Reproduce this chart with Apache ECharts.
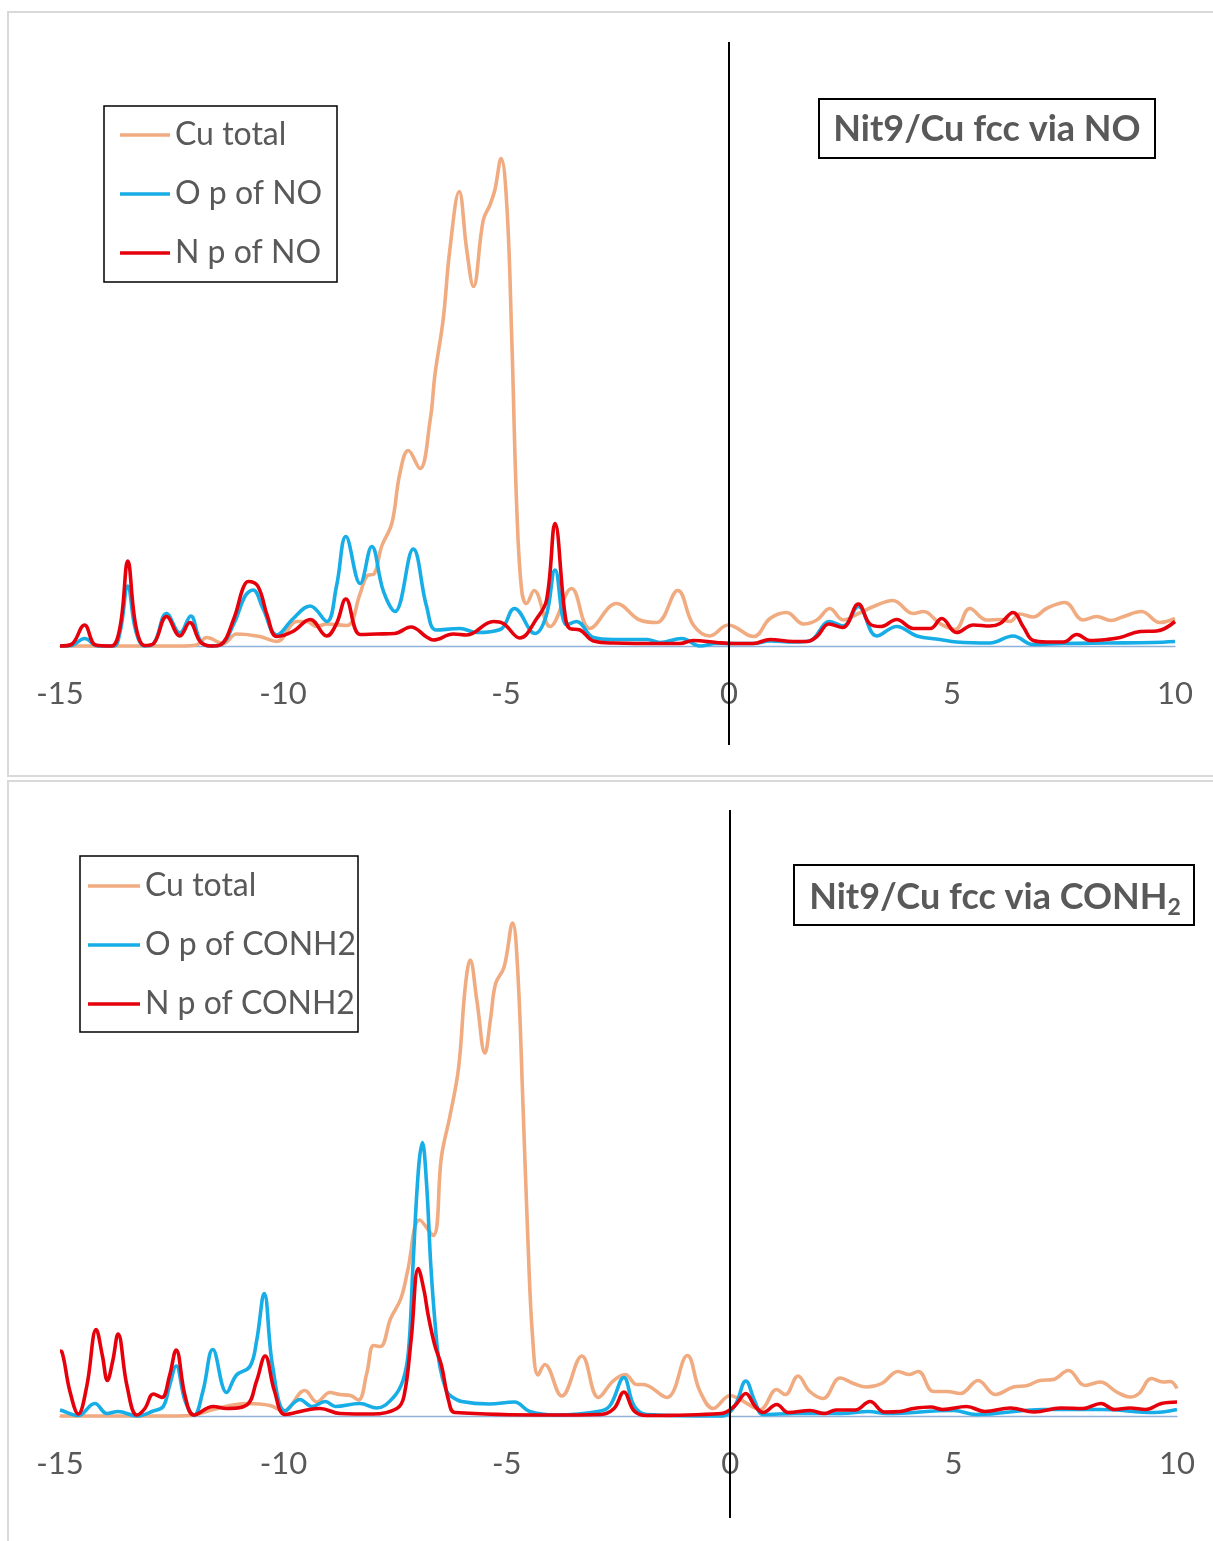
<!DOCTYPE html>
<html>
<head>
<meta charset="utf-8">
<script src="https://cdn.jsdelivr.net/npm/echarts@6/dist/echarts.min.js"></script>
<style>
  html, body { margin: 0; padding: 0; background: #ffffff; }
  #chart { width: 1213px; height: 1541px; }
</style>
</head>
<body>
<div id="chart"></div>
<script>
// Energy axis (eV relative to the Fermi level)
const X_MIN = -15;
const X_MAX = 10;
const X_STEP = 5;

// Panel titles and legend names
const topTitle = 'Nit9/Cu fcc via NO';
const bottomTitleMain = 'Nit9/Cu fcc via CONH';
const bottomTitleSub = '2';
const topNames = ['Cu total', 'O p of NO', 'N p of NO'];
const bottomNames = ['Cu total', 'O p of CONH2', 'N p of CONH2'];

// ---- Nit9/Cu fcc via NO : [energy, DOS] ----
const topCuTotal = [
  [-15,0],[-13,0],[-12.3,0],[-11.94,0.02],[-11.71,0.17],[-11.34,0.05],[-11.04,0.24],[-10.52,0.19],
  [-10.14,0.09],[-9.69,0.49],[-9.47,0.49],[-9.24,0.39],[-9.02,0.44],[-8.57,0.41],[-8.27,1.05],
  [-8.12,1.4],[-7.95,1.45],[-7.79,1.99],[-7.56,2.45],[-7.38,3.45],[-7.19,3.91],[-6.93,3.55],
  [-6.70,4.52],[-6.59,5.45],[-6.41,6.52],[-6.26,7.92],[-6.05,9.09],[-5.88,7.92],[-5.73,7.19],
  [-5.51,8.52],[-5.36,8.82],[-5.25,9.12],[-5.11,9.75],[-4.98,8.79],[-4.87,6.12],[-4.76,2.79],
  [-4.65,1.12],[-4.54,0.85],[-4.37,1.11],[-4.01,0.39],[-3.53,1.15],[-3.12,0.35],[-2.52,0.85],
  [-2.0,0.52],[-1.62,0.47],[-1.15,1.11],[-0.80,0.42],[-0.43,0.2],[-0.02,0.42],[0.55,0.19],
  [0.92,0.55],[1.29,0.67],[1.67,0.44],[1.97,0.52],[2.26,0.75],[2.56,0.52],[2.90,0.65],[3.24,0.79],
  [3.67,0.91],[4.13,0.65],[4.36,0.69],[4.73,0.45],[5.07,0.33],[5.40,0.75],[5.78,0.52],[6.08,0.53],
  [6.30,0.49],[6.52,0.64],[6.82,0.58],[7.12,0.75],[7.53,0.87],[7.94,0.52],[8.24,0.59],[8.57,0.51],
  [8.82,0.58],[9.25,0.69],[9.66,0.47],[10,0.55]
];
const topOp = [
  [-15,0],[-14.75,0.01],[-14.45,0.15],[-14.15,0],[-13.8,0],[-13.65,0.3],[-13.48,1.2],[-13.3,0.3],
  [-13.1,0],[-12.9,0.05],[-12.61,0.65],[-12.31,0.26],[-12.07,0.6],[-11.85,0.1],[-11.64,0],
  [-11.41,0.02],[-11.1,0.45],[-10.85,1.0],[-10.67,1.12],[-10.45,0.75],[-10.14,0.22],[-9.77,0.55],
  [-9.39,0.8],[-9.02,0.49],[-8.8,1.2],[-8.59,2.19],[-8.27,1.25],[-8.01,1.99],[-7.75,1.1],
  [-7.49,0.69],[-7.08,1.94],[-6.78,0.79],[-6.56,0.32],[-6.03,0.35],[-5.66,0.27],[-5.13,0.33],
  [-4.81,0.75],[-4.35,0.25],[-4.1,0.6],[-3.90,1.52],[-3.64,0.42],[-3.42,0.49],[-3.04,0.17],
  [-2.6,0.13],[-1.84,0.13],[-1.55,0.07],[-1.06,0.15],[-0.65,0],[-0.28,0.05],[0.2,0.05],[0.55,0.05],
  [0.92,0.1],[1.44,0.08],[1.80,0.1],[2.26,0.49],[2.56,0.4],[2.90,0.79],[3.31,0.2],[3.76,0.39],
  [4.21,0.2],[4.73,0.13],[5.10,0.08],[5.85,0.06],[6.37,0.2],[6.82,0.03],[7.5,0.05],[8.5,0.06],
  [9.5,0.07],[10,0.09]
];
const topNp = [
  [-15,0],[-14.75,0.03],[-14.45,0.42],[-14.2,0.02],[-13.85,0],[-13.65,0.4],[-13.48,1.70],[-13.3,0.4],
  [-13.1,0.01],[-12.9,0.05],[-12.61,0.59],[-12.31,0.2],[-12.09,0.47],[-11.85,0.08],[-11.6,0],
  [-11.41,0.02],[-11.1,0.55],[-10.9,1.15],[-10.78,1.29],[-10.56,1.19],[-10.35,0.6],[-10.14,0.19],
  [-9.78,0.29],[-9.39,0.53],[-9.02,0.2],[-8.8,0.45],[-8.59,0.94],[-8.27,0.23],[-7.9,0.24],
  [-7.5,0.25],[-7.13,0.38],[-6.78,0.18],[-6.63,0.12],[-6.18,0.24],[-5.88,0.22],[-5.28,0.49],
  [-5.06,0.45],[-4.69,0.16],[-4.31,0.55],[-4.09,0.92],[-3.90,2.45],[-3.68,0.65],[-3.57,0.35],
  [-3.34,0.32],[-3.04,0.1],[-2.59,0.06],[-1.5,0.05],[-1.1,0.05],[-0.80,0.11],[-0.28,0.07],
  [0.1,0.05],[0.54,0.05],[0.92,0.13],[1.44,0.09],[1.74,0.09],[1.97,0.19],[2.24,0.44],[2.55,0.37],
  [2.90,0.84],[3.16,0.44],[3.40,0.39],[3.76,0.53],[4.13,0.35],[4.51,0.35],[4.77,0.55],[5.10,0.27],
  [5.48,0.42],[5.85,0.40],[6.08,0.45],[6.37,0.67],[6.60,0.38],[6.82,0.11],[7.12,0.08],[7.50,0.08],
  [7.80,0.23],[8.09,0.11],[8.47,0.13],[8.77,0.17],[9.22,0.29],[9.59,0.30],[10,0.49]
];

// ---- Nit9/Cu fcc via CONH2 : [energy, DOS] ----
const bottomCuTotal = [
  [-15,0],[-12.5,0],[-12,0.02],[-11.57,0.13],[-10.82,0.25],[-10.3,0.21],[-10.0,0.1],[-9.52,0.51],
  [-9.25,0.28],[-8.96,0.47],[-8.74,0.43],[-8.5,0.41],[-8.32,0.32],[-8.13,0.87],[-7.98,1.41],
  [-7.83,1.39],[-7.60,1.95],[-7.37,2.35],[-7.22,2.90],[-6.95,3.92],[-6.65,3.61],[-6.46,5.2],
  [-6.27,6.01],[-6.08,6.96],[-5.93,8.58],[-5.82,9.12],[-5.67,8.31],[-5.49,7.26],[-5.36,7.97],
  [-5.25,8.65],[-5.06,8.98],[-4.87,9.86],[-4.76,8.98],[-4.64,6.28],[-4.53,3.57],[-4.42,1.54],
  [-4.30,0.82],[-4.15,1.03],[-3.77,0.4],[-3.32,1.2],[-2.95,0.37],[-2.62,0.7],[-2.35,0.83],
  [-2.09,0.63],[-1.95,0.63],[-1.42,0.37],[-0.96,1.21],[-0.68,0.5],[-0.38,0.15],[0,0.41],
  [0.22,0.33],[0.67,0.13],[1.04,0.53],[1.23,0.43],[1.52,0.8],[1.77,0.5],[2.08,0.35],[2.46,0.76],
  [2.76,0.65],[3.05,0.58],[3.39,0.65],[3.76,0.89],[3.99,0.83],[4.21,0.89],[4.55,0.49],[4.85,0.49],
  [5.15,0.45],[5.55,0.71],[5.93,0.43],[6.34,0.58],[6.65,0.61],[6.93,0.71],[7.23,0.73],[7.57,0.91],
  [7.94,0.61],[8.28,0.68],[8.65,0.48],[8.95,0.38],[9.15,0.45],[9.43,0.75],[9.69,0.68],[9.85,0.69],
  [10,0.55]
];
const bottomOp = [
  [-15,0.12],[-14.96,0.11],[-14.6,0.01],[-14.22,0.25],[-13.95,0.05],[-13.7,0.09],[-13.28,0],
  [-12.91,0.1],[-12.69,0.19],[-12.55,0.6],[-12.40,1.0],[-12.2,0.3],[-12.0,0.01],[-11.8,0.5],
  [-11.58,1.33],[-11.27,0.47],[-11.05,0.82],[-10.75,0.99],[-10.6,1.5],[-10.43,2.45],[-10.24,0.99],
  [-9.96,0.1],[-9.63,0.33],[-9.36,0.19],[-9.06,0.29],[-8.84,0.19],[-8.29,0.25],[-7.91,0.16],
  [-7.54,0.37],[-7.32,0.72],[-7.2,1.3],[-7.1,3.0],[-6.98,4.9],[-6.89,5.47],[-6.8,4.7],[-6.7,3.0],
  [-6.6,1.8],[-6.5,1.0],[-6.35,0.5],[-6.24,0.39],[-6.01,0.29],[-5.40,0.24],[-4.83,0.28],
  [-4.49,0.09],[-3.9,0.02],[-2.9,0.1],[-2.68,0.22],[-2.38,0.77],[-2.15,0.2],[-1.87,0.03],
  [-0.2,0],[0.1,0.2],[0.35,0.7],[0.55,0.3],[0.74,0.03],[1.5,0.05],[2.5,0.05],[3.1,0.09],[3.5,0.05],
  [5.0,0.11],[5.5,0.03],[7.0,0.13],[8.3,0.13],[9.5,0.07],[10,0.13]
];
const bottomNp = [
  [-15,1.3],[-14.96,1.29],[-14.78,0.5],[-14.59,0.04],[-14.4,0.6],[-14.19,1.73],[-14.05,1.2],
  [-13.94,0.71],[-13.82,1.1],[-13.70,1.64],[-13.5,0.6],[-13.28,0.02],[-13.1,0.15],[-12.91,0.44],
  [-12.72,0.37],[-12.55,0.8],[-12.40,1.32],[-12.2,0.4],[-12.0,0.02],[-11.57,0.19],[-11.27,0.15],
  [-10.82,0.22],[-10.6,0.7],[-10.41,1.2],[-10.2,0.5],[-9.96,0.03],[-9.48,0.12],[-9.18,0.15],
  [-8.73,0.05],[-8.0,0.04],[-7.46,0.15],[-7.3,0.4],[-7.14,1.54],[-6.98,2.95],[-6.85,2.5],
  [-6.76,2.02],[-6.61,1.41],[-6.46,1.0],[-6.3,0.3],[-6.16,0.07],[-4,0.02],[-2.9,0.03],[-2.6,0.15],
  [-2.38,0.48],[-2.15,0.1],[-1.87,0.01],[-0.2,0.05],[0.1,0.2],[0.35,0.45],[0.55,0.2],[0.74,0.07],
  [1.04,0.23],[1.3,0.07],[1.79,0.11],[2.1,0.05],[2.37,0.12],[2.8,0.12],[3.13,0.29],[3.45,0.08],
  [3.8,0.09],[4.1,0.15],[4.49,0.18],[4.75,0.13],[5.29,0.19],[5.7,0.09],[6.27,0.16],[6.8,0.08],
  [7.4,0.16],[7.9,0.15],[8.3,0.25],[8.6,0.13],[8.95,0.16],[9.3,0.13],[9.65,0.25],[10,0.28]
];

// ---- styling ----
const FONT = 'Lato, "Open Sans", "Liberation Sans", sans-serif';
const TEXT_GRAY = '#595959';
const COLOR_CU = '#f0ab80';
const COLOR_O = '#17ade6';
const COLOR_N = '#e6000c';
const LINE_W = 3.6;

// plot areas; y range extends below zero so the Fermi-level line reaches past the axis
const grids = [
  { left: 60, width: 1115, top: 42, height: 703, yMin: -1.98, yMax: 12.08 },
  { left: 60, width: 1117, top: 810, height: 708, yMin: -2.04, yMax: 12.12 }
];

function xAxisFor(gridIndex) {
  const g = grids[gridIndex];
  // lift the axis from the grid bottom up to y = 0
  const lift = g.height * (-g.yMin) / (g.yMax - g.yMin);
  return {
    gridIndex: gridIndex,
    type: 'value',
    position: 'bottom',
    offset: -lift,
    min: X_MIN, max: X_MAX, interval: X_STEP,
    axisLine: { show: true, onZero: false, lineStyle: { color: '#8fb2d9', width: 1.3 } },
    axisTick: { show: false },
    splitLine: { show: false },
    axisLabel: { color: TEXT_GRAY, fontSize: 31, fontFamily: FONT, margin: 32 }
  };
}

function yAxisFor(gridIndex) {
  const g = grids[gridIndex];
  return { gridIndex: gridIndex, type: 'value', min: g.yMin, max: g.yMax, show: false, splitLine: { show: false } };
}

function dosSeries(name, data, color, axisIndex, withFermi) {
  const s = {
    name: name, type: 'line', data: data,
    xAxisIndex: axisIndex, yAxisIndex: axisIndex,
    symbol: 'none', smooth: 0.4,
    lineStyle: { color: color, width: LINE_W },
    itemStyle: { color: color },
    silent: true, animation: false
  };
  if (withFermi) {
    s.markLine = {
      symbol: 'none', silent: true, animation: false,
      label: { show: false },
      lineStyle: { color: '#000000', width: 2, type: 'solid' },
      data: [{ xAxis: 0 }]
    };
  }
  return s;
}

function legendFor(names, left, top, itemWidth) {
  return {
    orient: 'vertical', left: left, top: top, padding: 0,
    icon: 'rect', itemWidth: itemWidth, itemHeight: 3.4, itemGap: 27,
    selectedMode: false,
    data: names,
    textStyle: { color: TEXT_GRAY, fontSize: 32, fontFamily: FONT, lineHeight: 30, padding: [0, 0, 0, 0] }
  };
}

const chart = echarts.init(document.getElementById('chart'), null, { renderer: 'canvas' });

chart.setOption({
  backgroundColor: '#ffffff',
  animation: false,
  grid: grids.map(g => ({ left: g.left, width: g.width, top: g.top, height: g.height })),
  xAxis: [xAxisFor(0), xAxisFor(1)],
  yAxis: [yAxisFor(0), yAxisFor(1)],
  legend: [
    legendFor(topNames, 120, 119, 50),
    legendFor(bottomNames, 88, 870, 52)
  ],
  graphic: [
    // panel frames
    { type: 'rect', z: -10, shape: { x: 8, y: 12, width: 1220, height: 764 },
      style: { fill: 'none', stroke: '#d9d9d9', lineWidth: 2 } },
    { type: 'rect', z: -10, shape: { x: 8, y: 781, width: 1220, height: 780 },
      style: { fill: 'none', stroke: '#d9d9d9', lineWidth: 2 } },
    // legend frames
    { type: 'rect', shape: { x: 104, y: 106, width: 233, height: 176 },
      style: { fill: 'none', stroke: '#000000', lineWidth: 1.5 } },
    { type: 'rect', shape: { x: 80, y: 856, width: 278, height: 176 },
      style: { fill: 'none', stroke: '#000000', lineWidth: 1.5 } },
    // panel titles
    { type: 'rect', shape: { x: 819, y: 99, width: 336, height: 59 },
      style: { fill: '#ffffff', stroke: '#000000', lineWidth: 2 } },
    { type: 'text', x: 987, y: 129,
      style: { text: topTitle, fill: TEXT_GRAY, fontSize: 36, fontWeight: 'bold', fontFamily: FONT,
               align: 'center', verticalAlign: 'middle' } },
    { type: 'rect', shape: { x: 794, y: 865, width: 400, height: 60 },
      style: { fill: '#ffffff', stroke: '#000000', lineWidth: 2 } },
    { type: 'text', x: 995, y: 897,
      style: {
        text: '{m|' + bottomTitleMain + '}{s|' + bottomTitleSub + '}',
        align: 'center', verticalAlign: 'middle',
        rich: {
          m: { fill: TEXT_GRAY, fontSize: 36, fontWeight: 'bold', fontFamily: FONT, lineHeight: 44, verticalAlign: 'middle' },
          s: { fill: TEXT_GRAY, fontSize: 23, fontWeight: 'bold', fontFamily: FONT, lineHeight: 26, verticalAlign: 'bottom' }
        }
      } }
  ],
  series: [
    dosSeries(topNames[0], topCuTotal, COLOR_CU, 0, true),
    dosSeries(topNames[1], topOp, COLOR_O, 0, false),
    dosSeries(topNames[2], topNp, COLOR_N, 0, false),
    dosSeries(bottomNames[0], bottomCuTotal, COLOR_CU, 1, true),
    dosSeries(bottomNames[1], bottomOp, COLOR_O, 1, false),
    dosSeries(bottomNames[2], bottomNp, COLOR_N, 1, false)
  ]
});
</script>
</body>
</html>
